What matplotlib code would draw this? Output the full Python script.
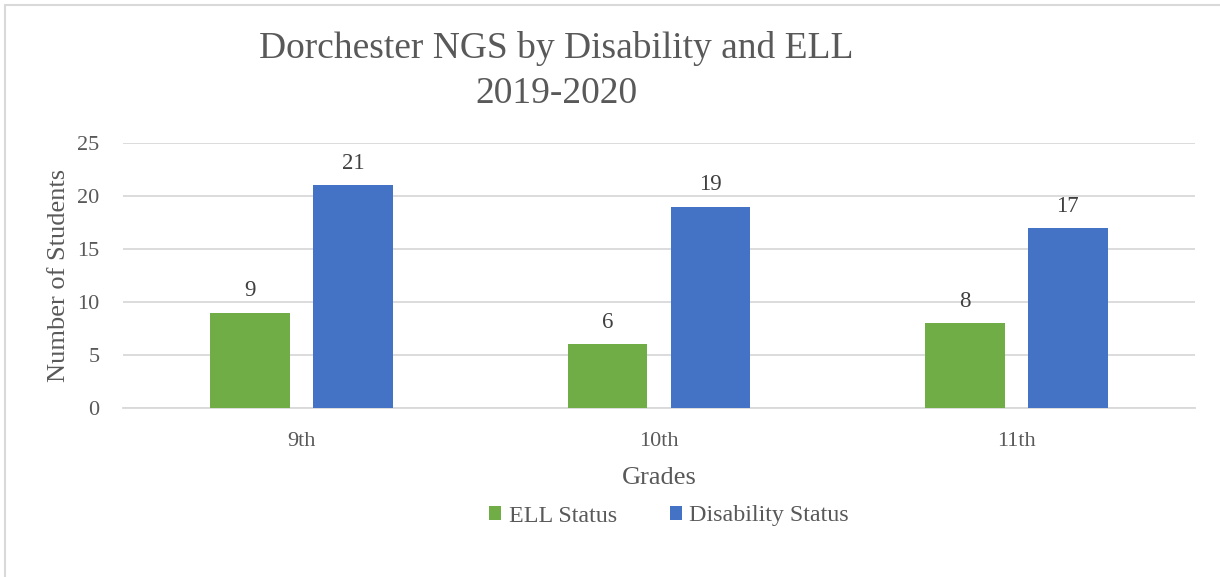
import numpy as np
import matplotlib.pyplot as plt
from matplotlib.patches import Rectangle

# Student counts per grade
grades = ["9th", "10th", "11th"]
ell_status = [9, 6, 8]
disability_status = [21, 19, 17]

GREEN = "#70AD47"
BLUE = "#4472C4"
TEXT = "#595959"
GRID = "#D9D9D9"

plt.rcParams["font.family"] = ["Liberation Serif", "DejaVu Serif"]

fig = plt.figure(figsize=(12.2, 5.77), dpi=100)
ax = fig.add_axes([0.1008, 0.2929, 0.8787, 0.4593])

# light frame round the chart area
fig.patches.append(Rectangle((5 / 1220, -0.1), 1.2, 1.1 - 5 / 577,
                             transform=fig.transFigure, fill=False,
                             edgecolor=GRID, linewidth=1.5))

x = np.arange(len(grades))
width = 0.223
offset = 0.144

b1 = ax.bar(x - offset, ell_status, width, color=GREEN, label="ELL Status", zorder=3)
b2 = ax.bar(x + offset, disability_status, width, color=BLUE, label="Disability Status", zorder=3)

for bars, vals in ((b1, ell_status), (b2, disability_status)):
    for rect, v in zip(bars, vals):
        ax.annotate(str(v), (rect.get_x() + rect.get_width() / 2, v),
                    xytext=(0, 8), textcoords="offset points",
                    ha="center", va="bottom", fontsize=16.5, color="#404040")

ax.set_xlim(-0.5, 2.5)
ax.set_ylim(0, 25)
ax.set_yticks(range(0, 26, 5))
ax.set_xticks(x)
ax.set_xticklabels(grades)
ax.tick_params(axis="both", length=0, labelsize=16, labelcolor=TEXT)
ax.tick_params(axis="x", pad=17)
ax.tick_params(axis="y", pad=17)
ax.grid(axis="y", color=GRID, linewidth=1.3, zorder=0)
for s in ("top", "right", "left"):
    ax.spines[s].set_visible(False)
ax.spines["bottom"].set_color(GRID)
ax.spines["bottom"].set_linewidth(1.3)

ax.set_xlabel("Grades", fontsize=19, color=TEXT, labelpad=12)
ax.set_ylabel("Number of Students", fontsize=19, color=TEXT, labelpad=5)

fig.text(556 / 1220, 1 - 71 / 577, "Dorchester NGS by Disability and ELL\n2019-2020",
         ha="center", va="center", fontsize=27, color=TEXT, linespacing=1.38)

fig.legend(handles=[b1, b2], loc="center", bbox_to_anchor=(669 / 1220, 1 - 516 / 577),
           ncol=2, frameon=False, fontsize=17.3, labelcolor=TEXT,
           handlelength=0.5, handleheight=0.5, handletextpad=0.3, columnspacing=2.2)

fig.savefig("out.png", dpi=100, facecolor="white")
